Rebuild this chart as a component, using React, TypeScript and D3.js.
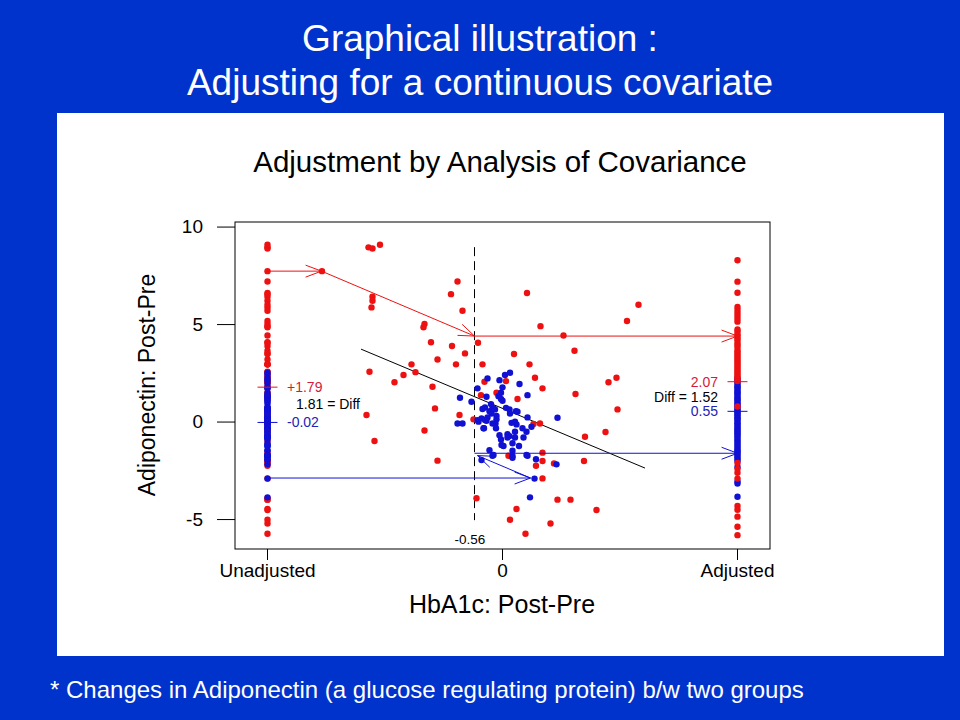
import React from "react";
import * as d3 from "d3";

const W = 960;
const H = 720;

const slideTitle = ["Graphical illustration :", "Adjusting for a continuous covariate"];
const chartTitle = "Adjustment by Analysis of Covariance";
const xAxisTitle = "HbA1c: Post-Pre";
const yAxisTitle = "Adiponectin: Post-Pre";
const footnote = "* Changes in Adiponectin (a glucose regulating protein) b/w two groups";

const yTicks = [10, 5, 0, -5];
const xTickValues = [-4.7, 0, 4.7];
const xTickLabels = ["Unadjusted", "0", "Adjusted"];
const unadjustedPos = -4.7;
const adjustedPos = 4.7;

// red group scatter (HbA1c change, Adiponectin change)
const redX = [-3.61, -2.68, -2.6, -2.45, -2.6, -2.6, -2.62, -0.9, -1.03, -0.8, -1.56, -1.58, -1.43, -1.01, -0.75, -0.49, -1.3, -2.66, -2.16, -1.98, -1.82, -1.74, -0.93, -1.4, -0.4, -2.72, -2.56, -1.35, -1.56, -1.3, -0.86, -0.58, -0.52, -0.43, -0.36, 0.23, 0.54, 0.65, 0.8, 1.22, 1.44, 1.46, 0.07, -0.12, 0.3, 0.62, 0.75, 1.65, 0.12, 0.8, 0.67, 0.8, 1.03, 1.63, 0.8, 0.49, 0.76, 2.72, 2.49, 2.12, 2.28, 2.3, 2.06, 1.1, 1.36, 0.28, 1.88, 0.15, 0.96, 0.46];
const redY = [7.74, 8.96, 8.9, 9.09, 6.43, 6.22, 5.88, 7.21, 6.56, 5.71, 5.03, 4.86, 4.09, 3.9, 3.52, 4.07, 3.21, 2.58, 2.04, 2.41, 2.96, 2.56, 2.96, 1.81, 2.96, 0.36, -0.97, 0.7, -0.43, -1.98, 0.36, 0.14, -3.91, 1.38, 2.07, 3.49, 2.96, 2.27, 1.73, 4.44, 3.66, 1.44, 2.1, 1.5, 1.18, -0.1, -0.07, -0.75, -1.73, -1.57, -2.24, -2.0, -2.12, -2.0, -2.89, 6.62, 4.92, 6.02, 5.18, 2.04, 2.27, 0.65, -0.51, -3.98, -3.98, -4.46, -4.51, -5.01, -5.2, -5.73];

// blue group scatter
const blueX = [-0.3, 0.05, 0.15, -0.06, 0.34, 0.0, -0.5, -0.03, -0.85, -0.62, -0.32, -0.08, -0.03, 0.0, -0.23, -0.4, -0.35, -0.2, -0.15, 0.07, 0.14, 0.27, 0.3, -0.26, -0.42, -0.5, -0.3, -0.32, -0.12, -0.12, -0.14, 0.15, 0.5, 1.1, -0.9, -0.8, -0.48, -0.37, -0.2, -0.13, 0.18, 0.25, 0.28, 0.4, 0.48, 0.58, -0.06, -0.03, 0.1, 0.14, 0.1, 0.25, 0.25, 0.42, 0.02, 0.2, 0.33, -0.26, 0.2, 0.2, 0.2, -0.2, 0.5, 0.67, 1.08, 0.64, 0.55, 0.5, -0.18, -0.22, -0.35, -0.38, -0.02, -0.18, 0.48, -0.42];
const blueY = [2.24, 2.41, 2.53, 2.15, 1.95, 1.78, 1.73, 1.5, 1.25, 1.04, 1.3, 1.33, 1.18, 1.09, 0.92, 0.67, 0.75, 0.73, 0.65, 0.73, 0.65, 0.56, 0.53, 0.56, 0.19, 0.1, 0.24, 0.07, 0.31, 0.14, -0.07, 0.44, 0.24, 0.22, -0.07, -0.07, 0.02, -0.32, -0.07, -0.32, -0.04, 0.02, -0.12, -0.32, -0.5, -0.24, -0.67, -0.89, -0.62, -0.72, -0.79, -0.5, -0.79, -0.79, -1.23, -1.09, -1.23, -1.44, -1.47, -1.74, -1.83, -1.73, -1.73, -1.91, -2.17, -2.9, -3.86, 1.38, 0.7, 0.44, 0.1, -0.32, -1.18, -1.69, -1.69, -1.95];

// covariance-adjusted responses (right column)
const redAdjusted = [8.3, 7.2, 6.63, 5.9, 5.75, 5.6, 5.45, 5.3, 5.15, 4.75, 4.65, 4.5, 4.41, 4.3, 4.2, 4.05, 3.95, 3.85, 3.7, 3.6, 3.5, 3.4, 3.3, 3.2, 3.1, 3.0, 2.9, 2.8, 2.7, 2.6, 2.5, 2.4, 2.3, 2.2, 2.1, 0.8, -2.1, -2.4, -2.6, -2.9, -4.3, -4.5, -4.85, -5.37, -5.8];
const blueAdjusted = [2.25, 2.15, 2.05, 1.95, 1.85, 1.78, 1.7, 1.6, 1.52, 1.45, 1.35, 1.25, 1.18, 1.1, 1.0, 0.92, 0.85, 0.75, 0.66, 0.58, 0.5, 0.42, 0.35, 0.25, 0.18, 0.1, 0.0, -0.08, -0.15, -0.25, -0.33, -0.42, -0.5, -0.58, -0.66, -0.75, -0.85, -0.95, -1.05, -1.15, -1.25, -1.35, -1.45, -1.52, -1.6, -1.7, -1.8, -1.9, -2.0, -2.3, -3.05, -3.15, -3.83];

const covariateMean = -0.56;
const regressionX = [-2.83, 2.85];
const regressionY = [3.74, -2.36];

const redUnadjMean = 1.79;
const blueUnadjMean = -0.02;
const redAdjMean = 2.07;
const blueAdjMean = 0.55;
const unadjDiffLabel = "1.81 = Diff";
const adjDiffLabel = "Diff = 1.52";

// illustrative projection paths [x, y]
const redPath = [[unadjustedPos, 7.74], [-3.62, 7.74], [covariateMean, 4.41], [adjustedPos, 4.41]];
const bluePath1 = [[unadjustedPos, -2.87], [0.56, -2.87], [-0.5, -1.72]];
const bluePath2 = [[covariateMean, -1.6], [adjustedPos, -1.6]];

const RED = "#ee1111";
const RED_TXT = "#d41a3a";
const BLUE = "#1111d4";
const BLUE_TXT = "#2222b8";
const FONT = "'Liberation Sans', Arial, sans-serif";

function head(x1: number, y1: number, x2: number, y2: number, len = 17, ang = 0.36) {
  const a = Math.atan2(y2 - y1, x2 - x1);
  const b1x = x2 - len * Math.cos(a - ang), b1y = y2 - len * Math.sin(a - ang);
  const b2x = x2 - len * Math.cos(a + ang), b2y = y2 - len * Math.sin(a + ang);
  return `M${b1x},${b1y}L${x2},${y2}L${b2x},${b2y}`;
}

export default function App() {
  const x = d3.scaleLinear().domain([-5.35, 5.35]).range([235, 770]);
  const y = d3.scaleLinear().domain([-6.51, 10.26]).range([549, 222]);
  const line = d3.line<number[]>().x((d) => x(d[0])).y((d) => y(d[1]));

  const segs = (pts: number[][], color: string, key: string) => {
    const out: any[] = [];
    for (let i = 0; i < pts.length - 1; i++) {
      const a = pts[i], b = pts[i + 1];
      out.push(<path key={key + "l" + i} d={line([a, b]) || ""} stroke={color} fill="none" strokeWidth={1} />);
      out.push(<path key={key + "h" + i} d={head(x(a[0]), y(a[1]), x(b[0]), y(b[1]))} stroke={color} fill="none" strokeWidth={1} />);
    }
    return out;
  };

  const dot = (cx: number, cy: number, c: string, k: string) => <circle key={k} cx={cx} cy={cy} r={3.2} fill={c} />;

  return (
    <svg width={W} height={H} style={{ position: "absolute", left: 0, top: 0 }} fontFamily={FONT}>
      <rect width={W} height={H} fill="#0033cc" />
      <text x={480} y={51} fill="#fff" fontSize={37} textAnchor="middle">{slideTitle[0]}</text>
      <text x={480} y={95} fill="#fff" fontSize={37} textAnchor="middle">{slideTitle[1]}</text>
      <rect x={57} y={113} width={887} height={543} fill="#fff" />
      <text x={500} y={172} fontSize={29.5} textAnchor="middle" fill="#000">{chartTitle}</text>

      {/* frame */}
      <rect x={235} y={222} width={535} height={327} fill="none" stroke="#000" strokeWidth={1} />
      {yTicks.map((t) => (
        <g key={"yt" + t}>
          <line x1={217} x2={235} y1={y(t)} y2={y(t)} stroke="#000" />
          <text x={203} y={y(t) + 6} fontSize={19} textAnchor="end">{t}</text>
        </g>
      ))}
      {xTickValues.map((t, i) => (
        <g key={"xt" + i}>
          <line x1={x(t)} x2={x(t)} y1={549} y2={560} stroke="#000" />
          <text x={x(t)} y={577} fontSize={19} textAnchor="middle">{xTickLabels[i]}</text>
        </g>
      ))}
      <text x={502} y={613} fontSize={25} textAnchor="middle">{xAxisTitle}</text>
      <text transform={`translate(155,385) rotate(-90)`} fontSize={23} textAnchor="middle">{yAxisTitle}</text>

      {/* dashed covariate mean */}
      <line x1={x(covariateMean)} x2={x(covariateMean)} y1={y(8.97)} y2={y(-5.03)} stroke="#000" strokeDasharray="9,5" />
      <text x={470} y={544} fontSize={13.5} textAnchor="middle">{covariateMean.toFixed(2)}</text>

      {/* regression line */}
      <path d={line(regressionX.map((v, i) => [v, regressionY[i]])) || ""} stroke="#000" fill="none" />

      {/* unadjusted column */}
      {redY.map((v, i) => dot(x(unadjustedPos), y(v), RED, "ur" + i))}
      {blueY.map((v, i) => dot(x(unadjustedPos), y(v), BLUE, "ub" + i))}
      {/* adjusted column */}
      {blueAdjusted.map((v, i) => dot(x(adjustedPos), y(v), BLUE, "ab" + i))}
      {redAdjusted.map((v, i) => dot(x(adjustedPos), y(v), RED, "ar" + i))}

      {/* scatter */}
      {redX.map((v, i) => dot(x(v), y(redY[i]), RED, "sr" + i))}
      {blueX.map((v, i) => dot(x(v), y(blueY[i]), BLUE, "sb" + i))}

      {/* projection arrows */}
      {segs(redPath, RED, "rp")}
      {segs(bluePath1, BLUE, "bp1")}
      {segs(bluePath2, BLUE, "bp2")}

      {/* mean markers */}
      <line x1={x(unadjustedPos) - 10} x2={x(unadjustedPos) + 10} y1={y(redUnadjMean)} y2={y(redUnadjMean)} stroke={RED} />
      <line x1={x(unadjustedPos) - 10} x2={x(unadjustedPos) + 10} y1={y(blueUnadjMean)} y2={y(blueUnadjMean)} stroke={BLUE} />
      <line x1={x(adjustedPos) - 10} x2={x(adjustedPos) + 10} y1={y(redAdjMean)} y2={y(redAdjMean)} stroke={RED} />
      <line x1={x(adjustedPos) - 10} x2={x(adjustedPos) + 10} y1={y(blueAdjMean)} y2={y(blueAdjMean)} stroke={BLUE} />

      <text x={287} y={y(redUnadjMean) + 5} fontSize={14} fill={RED_TXT}>{"+" + redUnadjMean.toFixed(2)}</text>
      <text x={296} y={y(redUnadjMean) + 22} fontSize={14} fill="#000">{unadjDiffLabel}</text>
      <text x={287} y={y(blueUnadjMean) + 5} fontSize={14} fill={BLUE_TXT}>{blueUnadjMean.toFixed(2)}</text>

      <text x={718} y={y(redAdjMean) + 5} fontSize={14} fill={RED_TXT} textAnchor="end">{redAdjMean.toFixed(2)}</text>
      <text x={718} y={y(redAdjMean) + 20} fontSize={14} fill="#000" textAnchor="end">{adjDiffLabel}</text>
      <text x={718} y={y(blueAdjMean) + 5} fontSize={14} fill={BLUE_TXT} textAnchor="end">{blueAdjMean.toFixed(2)}</text>

      <text x={50} y={698} fill="#fff" fontSize={24}>{footnote}</text>
    </svg>
  );
}
